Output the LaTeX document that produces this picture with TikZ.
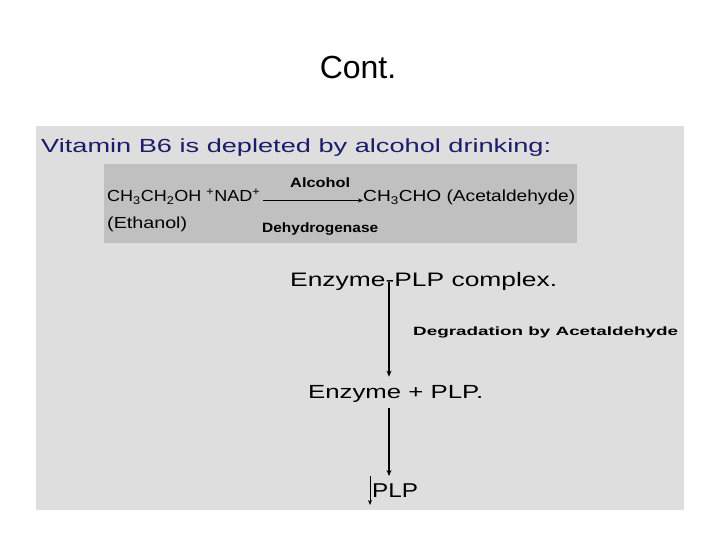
\documentclass[tikz,border=0pt]{standalone}
\usepackage{fontspec}
\setmainfont{Liberation Sans}
\usetikzlibrary{arrows.meta}

\definecolor{panelgrey}{HTML}{DEDEDE}
\definecolor{boxgrey}{HTML}{C0C0C0}
\definecolor{titlenavy}{HTML}{1C1C6A}
% the slide text is stretched sideways: give it the width it has there
\newcommand{\wideto}[2]{\resizebox{#1}{\height}{#2}}

\begin{document}
\begin{tikzpicture}[x=1pt, y=-1pt,
    every node/.style={inner sep=0pt, anchor=base west},
    arr/.style={-{Stealth[length=6pt, width=5pt]}, line width=2pt},
    thinarr/.style={-{Stealth[length=5pt, width=4pt]}, line width=0.9pt}]
    \useasboundingbox (0,0) rectangle (720,540);

    % backgrounds
    \fill[panelgrey] (36,126) rectangle (684,510);
    \fill[boxgrey] (104,164) rectangle (577,243);

    \node[anchor=base, font=\fontsize{32}{36}\selectfont] at (358,79) (cont) {Cont.};
    \node[font=\fontsize{19}{22}\selectfont, text=titlenavy] at (41,153) (title) {\wideto{510pt}{Vitamin B6 is depleted by alcohol drinking:}};

    % reaction
    \node[font=\fontsize{16}{18}\selectfont] at (107,202) (ethanol) {\wideto{153pt}{CH\textsubscript{3}CH\textsubscript{2}OH \textsuperscript{+}NAD\textsuperscript{+}}};
    \node[font=\fontsize{16}{18}\selectfont] at (363,202) (acet) {\wideto{212pt}{CH\textsubscript{3}CHO (Acetaldehyde)}};
    \node[font=\fontsize{16}{18}\selectfont] at (107,229) (ethname) {\wideto{80pt}{(Ethanol)}};
    \node[font=\bfseries\fontsize{13.5}{15}\selectfont] at (290,188) (alc) {\wideto{60pt}{Alcohol}};
    \node[font=\bfseries\fontsize{13.5}{15}\selectfont] at (262,233) (dehyd) {\wideto{116pt}{Dehydrogenase}};
    \draw[thinarr] ([xshift=3pt, yshift=1.5pt]ethanol.base east) -- ([yshift=1.5pt]acet.base west);

    % degradation steps
    \coordinate (axis) at (389,0);
    \node[font=\fontsize{19.5}{23}\selectfont] at (290,286) (complex) {\wideto{267pt}{Enzyme-PLP complex.}};
    \node[font=\bfseries\fontsize{12}{14}\selectfont] at (413,335) (degr) {\wideto{265pt}{Degradation by Acetaldehyde}};
    \node[font=\fontsize{19}{23}\selectfont] at (308,398) (free) {\wideto{175pt}{Enzyme + PLP.}};
    \node[font=\fontsize{20}{24}\selectfont] at (372,497) (plp) {\wideto{46pt}{PLP}};
    \coordinate (plpend) at (370,505);

    \draw[arr] ([yshift=4pt]complex.base -| axis) -- ([yshift=8pt]free.north -| axis);
    \draw[arr] ([yshift=-6pt]free.south -| axis) -- ([yshift=7pt]plp.north -| axis);
    \draw[thinarr] ([xshift=-2pt, yshift=7pt]plp.north west) -- (plpend);
\end{tikzpicture}
\end{document}
